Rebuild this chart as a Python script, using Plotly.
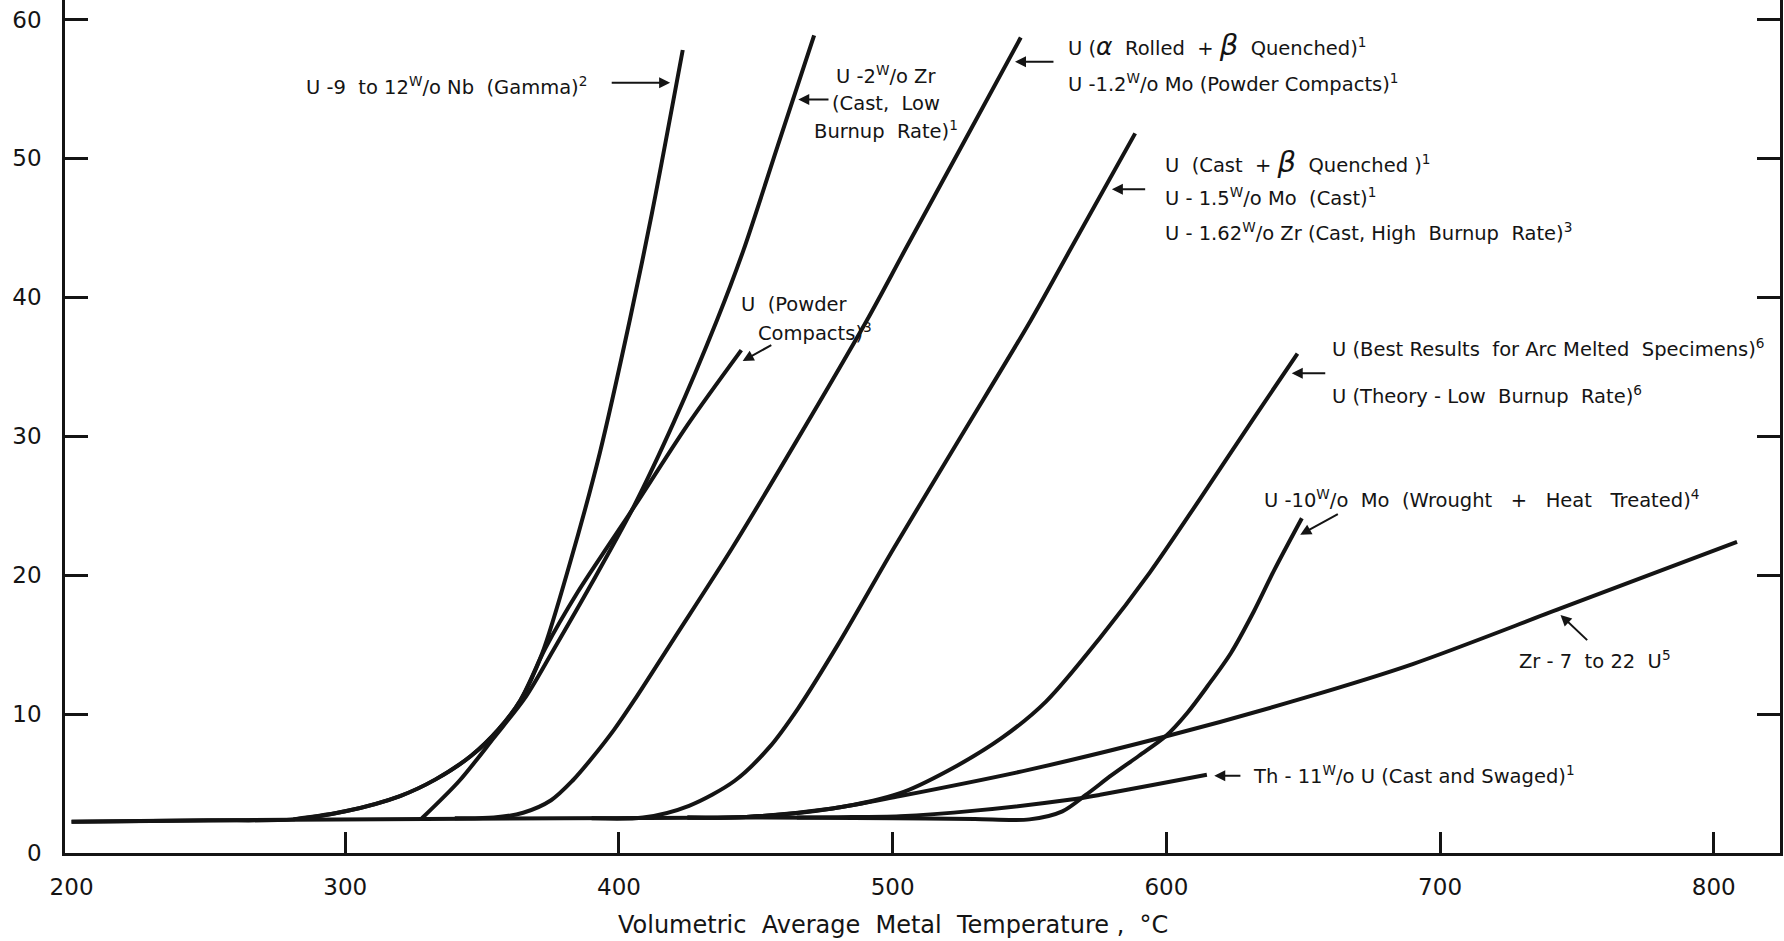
import plotly.graph_objects as go

# ---------------- data (temperature °C, value) ----------------
nb_temp = [200, 250, 281, 300, 320, 333, 346, 356, 364, 372, 382, 393, 404, 412, 423.3]
nb_val = [2.25, 2.35, 2.42, 3.0, 4.1, 5.3, 7.0, 8.9, 11.0, 14.4, 20.8, 28.8, 38.4, 46.0, 57.8]

powder_temp = [281, 300, 320, 333, 346, 356, 364, 373, 385, 396.7, 406.5, 425, 444.7]
powder_val = [2.42, 3.0, 4.1, 5.3, 7.0, 8.9, 11.0, 14.7, 18.8, 22.3, 25.2, 30.8, 36.2]

zr2_temp = [328, 341.7, 354.3, 365.8, 376, 390, 405.3, 420, 435.8, 445.5, 458, 471.3]
zr2_val = [2.5, 5.2, 8.3, 11.2, 14.6, 19.4, 24.9, 31.0, 38.35, 43.4, 50.9, 58.86]

alpha_temp = [340, 354.3, 365, 375.2, 383, 390, 398.3, 405.6, 420, 441.2, 465, 490.6, 504.5, 525, 546.8]
alpha_val = [2.5, 2.55, 2.9, 3.8, 5.2, 6.8, 8.9, 11.0, 15.4, 21.9, 29.7, 38.35, 43.4, 50.8, 58.7]

castb_temp = [390, 408.8, 425.6, 442.3, 454.9, 465.4, 480, 500.3, 525, 550.5, 564.8, 588.6]
castb_val = [2.5, 2.55, 3.4, 5.2, 7.6, 10.4, 15.0, 21.9, 30.0, 38.35, 43.4, 51.8]

arc_temp = [425, 446.5, 478, 502.7, 520, 540, 556, 575.8, 594, 612, 631.6, 647.9]
arc_val = [2.55, 2.6, 3.2, 4.3, 5.9, 8.3, 10.9, 15.5, 20.2, 25.4, 31.2, 35.95]

zru_temp = [425, 446.5, 478, 502.7, 550, 600, 651, 690, 744, 808.5]
zru_val = [2.55, 2.6, 3.2, 4.1, 6.0, 8.4, 11.2, 13.6, 17.6, 22.4]

mo10_temp = [200, 280, 380, 450, 500, 530, 550, 562, 570.7, 580, 590, 599.7, 607.7, 615, 623.6, 632, 639.5, 649.5]
mo10_val = [2.25, 2.4, 2.5, 2.55, 2.5, 2.44, 2.42, 3.0, 4.2, 5.6, 7.0, 8.4, 10.1, 12.0, 14.4, 17.4, 20.4, 24.1]

th_temp = [465, 480, 502.7, 530, 564.5, 575.8, 595, 614.8]
th_val = [2.55, 2.58, 2.65, 3.05, 3.83, 4.19, 4.9, 5.63]

x_tick_vals = [200, 300, 400, 500, 600, 700, 800]
x_tick_text = ["200", "300", "400", "500", "600", "700", "800"]
y_tick_vals = [0, 10, 20, 30, 40, 50, 60]
y_tick_text = ["0", "10", "20", "30", "40", "50", "60"]

curves = [
    ("U-9 to 12 w/o Nb", nb_temp, nb_val),
    ("U Powder Compacts", powder_temp, powder_val),
    ("U-2 w/o Zr", zr2_temp, zr2_val),
    ("U alpha rolled", alpha_temp, alpha_val),
    ("U cast beta", castb_temp, castb_val),
    ("U arc melted", arc_temp, arc_val),
    ("Zr-7 to 22 U", zru_temp, zru_val),
    ("U-10 w/o Mo", mo10_temp, mo10_val),
    ("Th-11 w/o U", th_temp, th_val),
]

# ---------------- styling / label placement ----------------
INK = "#141414"
FONT = "DejaVu Sans"
S = "\u00a0"
LABEL_SIZE = 19.5

fig = go.Figure()
for name, t, v in curves:
    fig.add_trace(go.Scatter(
        x=t, y=v, mode="lines", name=name, showlegend=False,
        line=dict(color=INK, width=4, shape="spline", smoothing=0.85),
        hoverinfo="skip"))

W = "<sup>W</sup>/o"
beta = '<span style="font-size:29px"><i>β</i></span>'
alpha = '<span style="font-size:25px"><i>α</i></span>'

texts = [
    # text, x, y, xanchor
    (f"U -9{S}{S}to 12{W}{S}Nb{S}{S}(Gamma)<sup>2</sup>", 285.1, 55.2, "left"),
    (f"U -2{W} Zr", 497.5, 56.0, "center"),
    (f"(Cast,{S}{S}Low", 497.5, 53.96, "center"),
    (f"Burnup{S}{S}Rate)<sup>1</sup>", 497.5, 52.05, "center"),
    (f"U{S}({alpha}{S}{S}Rolled{S}{S}+{S}{beta}{S}{S}Quenched)<sup>1</sup>", 563.4, 58.15, "left"),
    (f"U -1.2{W} Mo (Powder{S}Compacts)<sup>1</sup>", 563.4, 55.4, "left"),
    (f"U{S}{S}(Cast{S}{S}+{S}{beta}{S}{S}Quenched{S})<sup>1</sup>", 598.9, 49.76, "left"),
    (f"U - 1.5{W}{S}Mo{S}{S}(Cast)<sup>1</sup>", 598.9, 47.24, "left"),
    (f"U - 1.62{W} Zr (Cast,{S}High{S}{S}Burnup{S}{S}Rate)<sup>3</sup>", 598.9, 44.72, "left"),
    (f"U (Best Results{S}{S}for Arc Melted{S}{S}Specimens)<sup>6</sup>", 659.8, 36.33, "left"),
    (f"U (Theory - Low{S}{S}Burnup{S}{S}Rate)<sup>6</sup>", 659.8, 32.97, "left"),
    (f"U -10{W}{S}{S}Mo{S}{S}(Wrought{S}{S}{S}+{S}{S}{S}Heat{S}{S}{S}Treated)<sup>4</sup>",
     634.9, 25.49, "left"),
    (f"Zr - 7{S}{S}to 22{S}{S}U<sup>5</sup>", 728.0, 13.91, "left"),
    (f"Th - 11{W} U (Cast{S}and{S}Swaged)<sup>1</sup>", 630.8, 5.63, "left"),
    (f"U{S}{S}(Powder", 444.0, 39.45, "left"),
    (f"Compacts)<sup>3</sup>", 450.1, 37.53, "left"),
]
for txt, x, y, xa in texts:
    fig.add_annotation(x=x, y=y, xref="x", yref="y", text=txt, showarrow=False,
                       xanchor=xa, yanchor="middle",
                       font=dict(family=FONT, size=LABEL_SIZE, color=INK))

arrows = [
    # tail x, tail y, head x, head y
    (396.8, 55.44, 418.7, 55.44),
    (477.1, 54.24, 465.5, 54.24),
    (559.3, 56.95, 544.7, 56.95),
    (592.8, 47.77, 580.1, 47.77),
    (658.6, 34.53, 645.8, 34.53),
    (663.2, 24.46, 648.9, 22.9),
    (754.3, 15.22, 744.0, 17.14),
    (627.6, 5.56, 617.5, 5.56),
    (456.2, 36.62, 445.2, 35.42),
]
for tx, ty, hx, hy in arrows:
    fig.add_annotation(x=hx, y=hy, ax=tx, ay=ty, xref="x", yref="y",
                       axref="x", ayref="y", text="", showarrow=True,
                       arrowhead=2, arrowsize=1.1, arrowwidth=2,
                       arrowcolor=INK, standoff=0)

fig.add_annotation(x=500, y=-0.084, xref="x", yref="paper",
                   text=f"Volumetric{S}{S}Average{S}{S}Metal{S}{S}Temperature{S},{S}{S}°C",
                   showarrow=False, xanchor="center", yanchor="middle",
                   font=dict(family=FONT, size=24, color=INK))

fig.update_layout(
    width=1784, height=941,
    margin=dict(l=65, r=4, t=0, b=88),
    paper_bgcolor="white", plot_bgcolor="white",
    font=dict(family=FONT, color=INK),
    xaxis=dict(range=[197.6, 824.2], showgrid=False, zeroline=False, automargin=False,
               showline=True, linecolor=INK, linewidth=2.5, mirror=False,
               tickmode="array", tickvals=x_tick_vals, ticktext=x_tick_text,
               ticks="", tickfont=dict(family=FONT, size=23, color=INK),
               ticklabelstandoff=12,
               minor=dict(tickmode="array", tickvals=x_tick_vals[1:], ticks="inside",
                          ticklen=21, tickwidth=2.5, tickcolor=INK, showgrid=False)),
    yaxis=dict(range=[0, 61.4], showgrid=False, zeroline=False, automargin=False,
               showline=True, linecolor=INK, linewidth=2.5, mirror="ticks",
               tickmode="array", tickvals=y_tick_vals, ticktext=y_tick_text,
               ticks="inside", ticklen=23, tickwidth=2.5, tickcolor=INK,
               tickfont=dict(family=FONT, size=23, color=INK),
               ticklabelstandoff=16),
)

fig.write_html("out.html", config={"displayModeBar": False},
               post_script="document.body.style.margin='0';document.body.style.overflow='hidden';")
